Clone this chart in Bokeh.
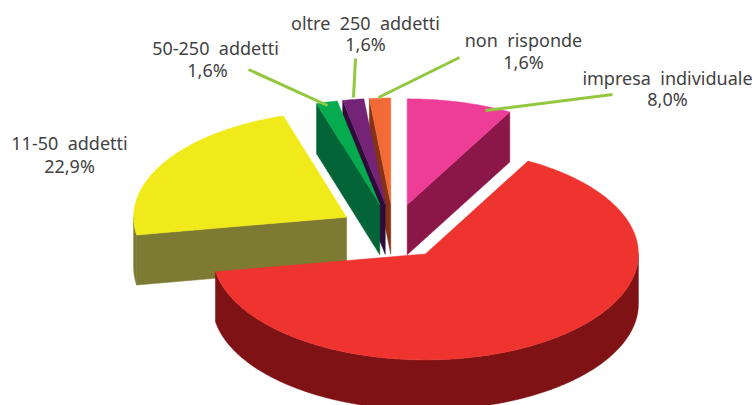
import numpy as np
from bokeh.plotting import figure
from bokeh.models import Range1d
from bokeh.core.properties import value
from bokeh.embed import file_html
from bokeh.resources import INLINE

# data
categories = ["impresa  individuale", "", "11-50  addetti", "50-250  addetti", "oltre  250  addetti", "non  risponde"]
shares = [8.0, 64.3, 22.9, 1.6, 1.6, 1.6]
pct_labels = ["8,0%", "", "22,9%", "1,6%", "1,6%", "1,6%"]
top_colors = ["#EE3D96", "#EF3430", "#F1EA1B", "#05AB4E", "#752376", "#F26A36"]
side_colors = ["#8B1748", "#7E1214", "#7D7B33", "#036537", "#2E0B38", "#843319"]
draw_order = [0, 5, 4, 3, 2, 1]

# layout (page pixels)
W, H = 752, 405
CX, CY, RX, RY, DEPTH, EXPLODE = 393, 231, 213, 106, 50, 55
LABEL_POS = {0: (667, 77, 667, 98), 2: (69, 142, 69, 165), 3: (215, 47, 207, 69),
             4: (365, 22, 365, 43), 5: (523, 39, 523, 61)}
LEADERS = {0: (485, 110, 612, 94), 3: (327, 105, 248, 69), 4: (353, 97, 355, 58), 5: (378, 97, 459, 57)}
FONT = "Noto Sans"
TXT = "#424242"
LINE = "#93C83E"

p = figure(width=W, height=H, x_range=Range1d(0, W), y_range=Range1d(H, 0),
           output_backend="svg", toolbar_location=None, min_border=0, outline_line_color=None)
p.axis.visible = False
p.grid.visible = False

edges = np.radians(np.concatenate([[0], np.cumsum(shares)]) * 3.6)


def rim(a, b, ox, oy, dz=0.0):
    t = np.linspace(a, b, max(2, int(abs(np.degrees(b - a))) * 2))
    return ox + RX * np.sin(t), oy - RY * np.cos(t) + dz


def draw(xs, ys, color):
    p.patch(list(xs), list(ys), fill_color=color, line_color=color, line_width=0.5)


for i in draw_order:
    a, b = edges[i], edges[i + 1]
    mid = (a + b) / 2
    ox = CX + EXPLODE * np.sin(mid)
    oy = CY - EXPLODE / 2 * np.cos(mid)
    # outer wall, front-facing arc only
    lo, hi = max(a, np.pi / 2), min(b, 3 * np.pi / 2)
    if hi > lo:
        x1, y1 = rim(lo, hi, ox, oy)
        x2, y2 = rim(hi, lo, ox, oy, DEPTH)
        draw(np.r_[x1, x2], np.r_[y1, y2], side_colors[i])
    # cut faces
    for ang, vis in ((a, np.sin(a) < -1e-6), (b, np.sin(b) > 1e-6)):
        if vis:
            ex, ey = ox + RX * np.sin(ang), oy - RY * np.cos(ang)
            draw([ox, ex, ex, ox], [oy, ey, ey + DEPTH, oy + DEPTH], side_colors[i])
    # top
    x, y = rim(a, b, ox, oy)
    draw(np.r_[ox, x], np.r_[oy, y], top_colors[i])

for i, (x0, y0, x1, y1) in LEADERS.items():
    p.line([x0, x1], [y0, y1], line_color=LINE, line_width=3)

for i, (lx, ly, px, py) in LABEL_POS.items():
    for tx, ty, s in ((lx, ly, categories[i]), (px, py, pct_labels[i])):
        p.text([tx], [ty], text=[s.replace("  ", "\u00a0\u00a0")], text_font=value(FONT), text_font_size="18px",
               text_color=TXT, text_align="center", text_baseline="middle")

open("out.html", "w").write(file_html(p, INLINE))
